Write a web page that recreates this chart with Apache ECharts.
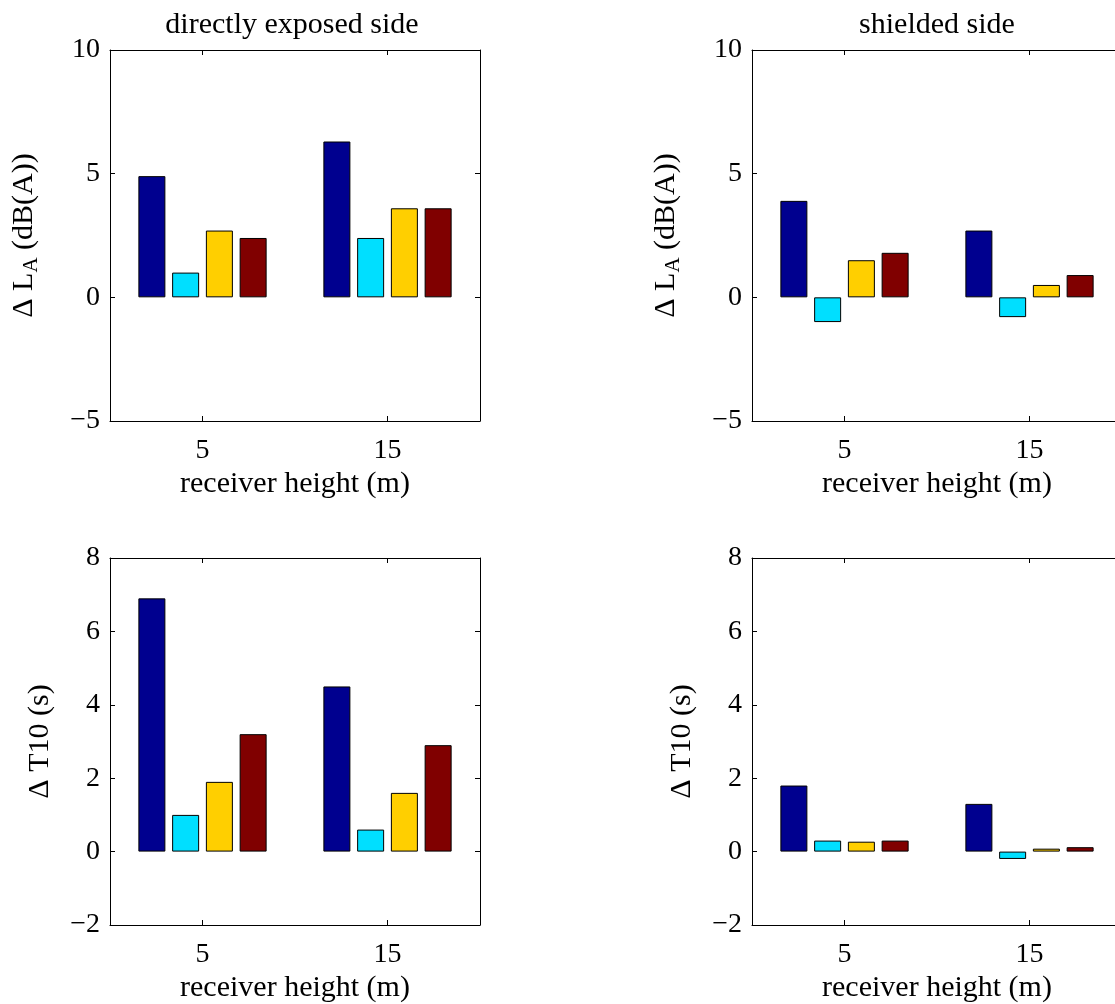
<!DOCTYPE html>
<html>
<head>
<meta charset="utf-8">
<script src="https://cdn.jsdelivr.net/npm/echarts@6/dist/echarts.min.js"></script>
<style>
html,body{margin:0;padding:0;background:#fff;overflow:hidden;}
#c{width:1130px;height:1004px;}
</style>
</head>
<body>
<div id="c"></div>
<script>
// ---- data ----
const categories = ['5', '15'];
const seriesColors = ['#00008F', '#00DFFF', '#FFCF00', '#800000'];
// each panel: 4 series, values for [5 m, 15 m]
const exposedLA  = [[4.9, 6.3], [1.0, 2.4], [2.7, 3.6], [2.4, 3.6]];
const shieldedLA = [[3.9, 2.7], [-1.0, -0.8], [1.5, 0.5], [1.8, 0.9]];
const exposedT10  = [[6.9, 4.5], [1.0, 0.6], [1.9, 1.6], [3.2, 2.9]];
const shieldedT10 = [[1.8, 1.3], [0.3, -0.2], [0.27, 0.08], [0.3, 0.12]];
const panelTitles = ['directly exposed side', 'shielded side'];
const xAxisName = 'receiver height (m)';

const FONT = 'Liberation Serif';
const FS = 28;   // tick labels
const FL = 30;   // titles / axis names

const grids = [
  {left: 110, top: 50, width: 370, height: 371},
  {left: 752, top: 50, width: 370, height: 371},
  {left: 110, top: 558, width: 370, height: 370},
  {left: 752, top: 558, width: 370, height: 370}
];
const panelData = [exposedLA, shieldedLA, exposedT10, shieldedT10];
const yRanges = [[-5, 10, 5], [-5, 10, 5], [-2, 8, 2], [-2, 8, 2]];
const yNames = ['{n|Δ L}{s|A}{n| (dB(A))}', '{n|Δ L}{s|A}{n| (dB(A))}', '{n|Δ T10 (s)}', '{n|Δ T10 (s)}'];
const yNameGaps = [68, 68, 55, 55];

const minusFmt = v => String(v).replace('-', '\u2212');
const lineStyle = {color: '#000', width: 1};

const xAxes = [], yAxes = [], series = [];
grids.forEach((g, i) => {
  // bottom x axis
  xAxes.push({
    gridIndex: i, type: 'category', data: categories, position: 'bottom',
    axisLine: {show: true, onZero: false, lineStyle},
    axisTick: {show: true, inside: true, alignWithLabel: true, length: 5, lineStyle},
    axisLabel: {fontFamily: FONT, fontSize: FS, color: '#000', margin: 16},
    name: xAxisName, nameLocation: 'middle', nameGap: 48,
    nameTextStyle: {fontFamily: FONT, fontSize: FL, color: '#000'},
    splitLine: {show: false}
  });
  // top x axis (box + ticks)
  xAxes.push({
    gridIndex: i, type: 'category', data: categories, position: 'top',
    axisLine: {show: true, onZero: false, lineStyle},
    axisTick: {show: true, inside: true, alignWithLabel: true, length: 5, lineStyle},
    axisLabel: {show: false}, splitLine: {show: false}
  });
  const [mn, mx, iv] = yRanges[i];
  yAxes.push({
    gridIndex: i, type: 'value', min: mn, max: mx, interval: iv, position: 'left',
    axisLine: {show: true, onZero: false, lineStyle},
    axisTick: {show: true, inside: true, length: 5, lineStyle},
    axisLabel: {fontFamily: FONT, fontSize: FS, color: '#000', margin: 10, formatter: minusFmt},
    splitLine: {show: false},
    name: yNames[i], nameLocation: 'middle', nameGap: yNameGaps[i],
    nameTextStyle: {
      fontFamily: FONT, fontSize: FL, color: '#000',
      rich: {
        n: {fontFamily: FONT, fontSize: FL, color: '#000'},
        s: {fontFamily: FONT, fontSize: 21, color: '#000', padding: [15, 0, 0, 0]}
      }
    }
  });
  yAxes.push({
    gridIndex: i, type: 'value', min: mn, max: mx, interval: iv, position: 'right',
    axisLine: {show: true, onZero: false, lineStyle},
    axisTick: {show: true, inside: true, length: 5, lineStyle},
    axisLabel: {show: false}, splitLine: {show: false}
  });
  panelData[i].forEach((vals, k) => {
    series.push({
      type: 'bar', xAxisIndex: 2 * i, yAxisIndex: 2 * i, data: vals,
      barWidth: 27, barGap: '25%',
      itemStyle: {color: seriesColors[k], borderColor: '#000', borderWidth: 1},
      emphasis: {disabled: true}, animation: false
    });
  });
});

const chart = echarts.init(document.getElementById('c'), null, {renderer: 'canvas'});
chart.setOption({
  backgroundColor: '#fff',
  animation: false,
  title: [
    {text: panelTitles[0], left: 287, top: 5, textAlign: 'center',
     textStyle: {fontFamily: FONT, fontSize: FL, fontWeight: 'normal', color: '#000'}},
    {text: panelTitles[1], left: 932, top: 5, textAlign: 'center',
     textStyle: {fontFamily: FONT, fontSize: FL, fontWeight: 'normal', color: '#000'}}
  ],
  grid: grids.map(g => Object.assign({containLabel: false}, g)),
  xAxis: xAxes,
  yAxis: yAxes,
  series: series
});
</script>
</body>
</html>
